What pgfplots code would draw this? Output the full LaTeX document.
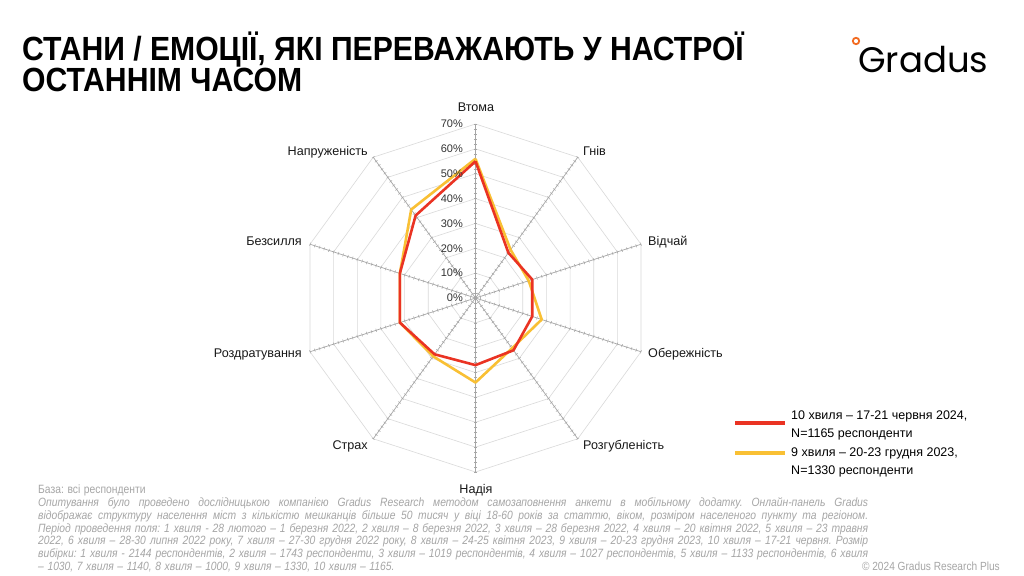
\documentclass[border=0pt]{standalone}
\usepackage{pgfplots}
\pgfplotsset{compat=1.18}
\usepgfplotslibrary{polar}
\usetikzlibrary{decorations.pathreplacing}
\usepackage{fontspec}
\setmainfont{Liberation Sans}
\newfontfamily\titlefont[FakeStretch=0.9]{Liberation Sans}
\newfontfamily\notefont[FakeStretch=0.86]{Liberation Sans}
\newfontfamily\logofont{Poppins}
\frenchspacing
\newcommand\notesize{\fontsize{12}{12.7}\selectfont
  \spaceskip=1.25\fontdimen2\font plus 3\fontdimen3\font minus \fontdimen4\font}

\definecolor{wred}{HTML}{EA3323}
\definecolor{wyel}{HTML}{F9C034}
\definecolor{gridc}{HTML}{DADADA}
\definecolor{spokec}{HTML}{A6A6A6}
\definecolor{notec}{HTML}{A6A6A6}
\definecolor{logoor}{HTML}{F26B21}

\begin{document}
\begin{tikzpicture}[x=1pt,y=1pt]
\useasboundingbox[fill=white] (0,0) rectangle (1024,575);

\begin{polaraxis}[
  scale only axis, width=348pt, height=348pt,
  at={(475.5pt,277pt)}, anchor=center,
  hide axis, clip=false,
  xmin=0, xmax=360, ymin=0, ymax=70,
  reverse legend,
  legend style={at={(1.240,0.181)}, anchor=north west, draw=none, fill=none,
    inner sep=0pt, font=\fontsize{12.5}{17.5}\selectfont,
    cells={anchor=west, align=left}, row sep=5pt, column sep=2pt},
]
% decagon grid
\pgfplotsinvokeforeach{10,20,30,40,50,60,70}{
  \addplot[gridc, line width=0.6pt, forget plot] coordinates {
    (90,#1) (54,#1) (18,#1) (342,#1) (306,#1) (270,#1)
    (234,#1) (198,#1) (162,#1) (126,#1) (90,#1)};
}
% spokes with small ticks
\pgfplotsinvokeforeach{90,54,18,342,306,270,234,198,162,126}{
  \addplot[spokec, line width=0.7pt, forget plot,
    postaction={decorate, draw=spokec, line width=0.5pt,
      decoration={ticks, segment length=4.97pt, amplitude=1.6pt}}]
    coordinates {(#1,0) (#1,70)};
}
% 9 хвиля
\addplot[wyel, line width=2.6pt, line join=round,
  legend image code/.code={\draw[wyel, line width=4pt, line cap=butt] (0pt,8.5pt) -- (50pt,8.5pt);}]
  coordinates {
  (90,56) (54,24) (18,22.5) (342,28) (306,25) (270,34)
  (234,29) (198,32) (162,32) (126,44) (90,56)};
\addlegendentry{9 хвиля – 20-23 грудня 2023,\\N=1330 респонденти}
% 10 хвиля
\addplot[wred, line width=2.6pt, line join=round,
  legend image code/.code={\draw[wred, line width=4pt, line cap=butt] (0pt,2.5pt) -- (50pt,2.5pt);}]
  coordinates {
  (90,55) (54,22.5) (18,24) (342,24) (306,26) (270,27)
  (234,28) (198,32) (162,32) (126,41) (90,55)};
\addlegendentry{10 хвиля – 17-21 червня 2024,\\N=1165 респонденти}
% radial tick labels
\pgfplotsinvokeforeach{0,10,20,30,40,50,60,70}{
  \node[anchor=east, xshift=-12.5pt, inner sep=0pt, text=black!80,
    font=\fontsize{11}{13}\selectfont] at (axis cs:90,#1) {#1\%};
}
\end{polaraxis}

% category labels
\begin{scope}[every node/.style={inner sep=0pt, font=\fontsize{12.6}{14}\selectfont, text=black!90}]
\node[anchor=base] at (476,575-111.5) {Втома};
\node[anchor=base west] at (583,575-155.5) {Гнів};
\node[anchor=base west] at (648,575-245.5) {Відчай};
\node[anchor=base west] at (648,575-357.5) {Обережність};
\node[anchor=base west] at (583,575-449.5) {Розгубленість};
\node[anchor=base] at (476,575-493.5) {Надія};
\node[anchor=base east] at (368,575-449.5) {Страх};
\node[anchor=base east] at (302,575-357.5) {Роздратування};
\node[anchor=base east] at (302,575-245.5) {Безсилля};
\node[anchor=base east] at (368,575-156) {Напруженість};
\end{scope}

% title
\node[anchor=base west, inner sep=0pt, font=\titlefont\bfseries\fontsize{33.5}{31}\selectfont]
  at (22,575-61) {СТАНИ / ЕМОЦІЇ, ЯКІ ПЕРЕВАЖАЮТЬ У НАСТРОЇ};
\node[anchor=base west, inner sep=0pt, font=\titlefont\bfseries\fontsize{33.5}{31}\selectfont]
  at (22,575-92) {ОСТАННІМ ЧАСОМ};

% logo
\draw[logoor, line width=1.8pt] (856,575-41) circle (3.2);
\node[anchor=base west, inner sep=0pt, font=\logofont\fontsize{35.5}{40}\selectfont]
  at (858,575-73) {Gradus};

% notes
\begin{scope}[every node/.style={inner sep=0pt, anchor=base west, text=notec,
    font=\notefont\notesize}]
\node at (38,575-494) {База: всі респонденти};
\node[font=\notefont\itshape\notesize] at (38,575-506.7)
  {\makebox[830pt][s]{Опитування було проведено дослідницькою компанією Gradus Research методом самозаповнення анкети в мобільному додатку. Онлайн-панель Gradus}};
\node[font=\notefont\itshape\notesize] at (38,575-519.4)
  {\makebox[830pt][s]{відображає структуру населення міст з кількістю мешканців більше 50 тисяч у віці 18-60 років за статтю, віком, розміром населеного пункту та регіоном.}};
\node[font=\notefont\itshape\notesize] at (38,575-532.1)
  {\makebox[830pt][s]{Період проведення поля: 1 хвиля - 28 лютого – 1 березня 2022, 2 хвиля – 8 березня 2022, 3 хвиля – 28 березня 2022, 4 хвиля – 20 квітня 2022, 5 хвиля – 23 травня}};
\node[font=\notefont\itshape\notesize] at (38,575-544.8)
  {\makebox[830pt][s]{2022, 6 хвиля – 28-30 липня 2022 року, 7 хвиля – 27-30 грудня 2022 року, 8 хвиля – 24-25 квітня 2023, 9 хвиля – 20-23 грудня 2023, 10 хвиля – 17-21 червня. Розмір}};
\node[font=\notefont\itshape\notesize] at (38,575-557.5)
  {\makebox[830pt][s]{вибірки: 1 хвиля - 2144 респондентів, 2 хвиля – 1743 респонденти, 3 хвиля – 1019 респондентів, 4 хвиля – 1027 респондентів, 5 хвиля – 1133 респондентів, 6 хвиля}};
\node[font=\notefont\itshape\notesize] at (38,575-570.2)
  {– 1030, 7 хвиля – 1140, 8 хвиля – 1000, 9 хвиля – 1330, 10 хвиля – 1165.};
\node[anchor=base east, font=\notefont\fontsize{11.8}{12.7}\selectfont] at (1000,575-570.2) {© 2024 Gradus Research Plus};
\end{scope}
\end{tikzpicture}
\end{document}
